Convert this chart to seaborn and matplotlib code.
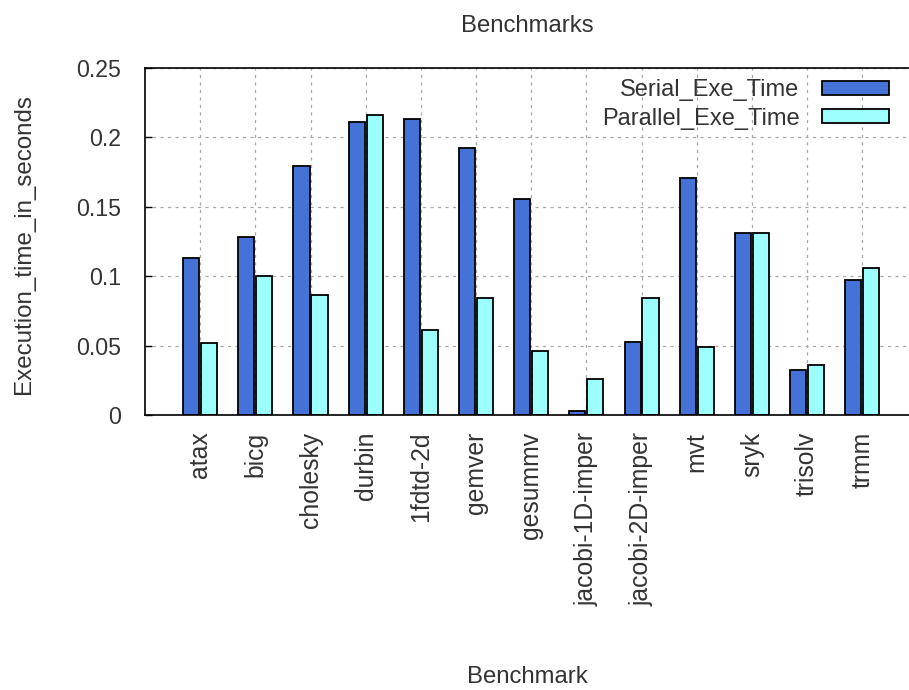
import matplotlib
matplotlib.use("Agg")
import matplotlib.pyplot as plt
import seaborn as sns
import pandas as pd
from matplotlib.ticker import FixedLocator, FixedFormatter

# Benchmark execution times (seconds)
benchmarks = ["atax", "bicg", "cholesky", "durbin", "1fdtd-2d", "gemver", "gesummv",
              "jacobi-1D-imper", "jacobi-2D-imper", "mvt", "sryk", "trisolv", "trmm"]
serial_times = [0.1133, 0.1285, 0.1794, 0.2109, 0.2130, 0.1921, 0.1556,
                0.0031, 0.0526, 0.1708, 0.1309, 0.0324, 0.0973]
parallel_times = [0.0517, 0.1004, 0.0865, 0.2164, 0.0612, 0.0841, 0.0463,
                  0.0257, 0.0841, 0.0488, 0.1309, 0.0358, 0.1059]
series_names = ["Serial_Exe_Time", "Parallel_Exe_Time"]
ytick_values = [0, 0.05, 0.1, 0.15, 0.2, 0.25]
ytick_labels = ["0", "0.05", "0.1", "0.15", "0.2", "0.25"]

df = pd.DataFrame({
    "Benchmark": benchmarks * 2,
    "Time": serial_times + parallel_times,
    "Series": [series_names[0]] * len(benchmarks) + [series_names[1]] * len(benchmarks),
})

sns.set_theme(style="white")
plt.rcParams["font.family"] = ["Liberation Sans", "DejaVu Sans"]
plt.rcParams["font.size"] = 16.5
text_color = "#333333"

W, H = 909, 690
fig = plt.figure(figsize=(W / 100, H / 100), dpi=100)
ax_left, ax_right, ax_top, ax_bottom = 145, 917.4, 68, 415
ax = fig.add_axes([ax_left / W, 1 - ax_bottom / H,
                   (ax_right - ax_left) / W, (ax_bottom - ax_top) / H])

palette = {series_names[0]: "#4472d6", series_names[1]: "#9cfffd"}
sns.barplot(data=df, x="Benchmark", y="Time", hue="Series", order=benchmarks,
            hue_order=series_names, palette=palette, width=0.65, gap=0.1,
            edgecolor="black", linewidth=1.3, saturation=1, ax=ax, zorder=3)

ax.set_xlim(-1, 13)
ax.set_ylim(0, 0.25)
ax.yaxis.set_major_locator(FixedLocator(ytick_values))
ax.yaxis.set_major_formatter(FixedFormatter(ytick_labels))

ax.grid(True, color="#a8a8a8", linestyle=(0, (2.5, 3.5)), linewidth=0.9, zorder=0)
ax.set_axisbelow(True)

for side in ["left", "top", "bottom"]:
    ax.spines[side].set_color("black")
    ax.spines[side].set_linewidth(1.2)
    ax.spines[side].set_zorder(5)
ax.spines["right"].set_visible(False)

ax.tick_params(axis="y", direction="in", length=5, width=1, pad=17,
               labelsize=16.7, colors="black", left=True)
ax.tick_params(axis="x", length=0, pad=12, labelsize=17.8, colors="black")
plt.setp(ax.get_xticklabels(), rotation=90, ha="center", va="top", color=text_color)
plt.setp(ax.get_yticklabels(), color=text_color)

ax.set_title("Benchmarks", x=(527 - ax_left) / (ax_right - ax_left), pad=26,
             fontsize=17.2, color=text_color)
ax.set_xlabel("Benchmark", fontsize=17.2, color=text_color)
ax.xaxis.set_label_coords((527 - ax_left) / (ax_right - ax_left),
                          (ax_bottom - 666) / (ax_bottom - ax_top))
ax.set_ylabel("Execution_time_in_seconds", fontsize=17.4, color=text_color)
ax.yaxis.set_label_coords((35 - ax_left) / (ax_right - ax_left), 0.494)

handles, labels = ax.get_legend_handles_labels()
leg = ax.legend(handles, labels, loc="upper right", frameon=False, markerfirst=False,
                fontsize=17, handlelength=2.85, handleheight=0.52, handletextpad=0.95,
                labelspacing=0.28, borderaxespad=0, borderpad=0,
                bbox_to_anchor=((889 - ax_left) / (ax_right - ax_left),
                                (ax_bottom - 79) / (ax_bottom - ax_top)))
for t in leg.get_texts():
    t.set_color(text_color)

fig.savefig("out.png", dpi=100)
